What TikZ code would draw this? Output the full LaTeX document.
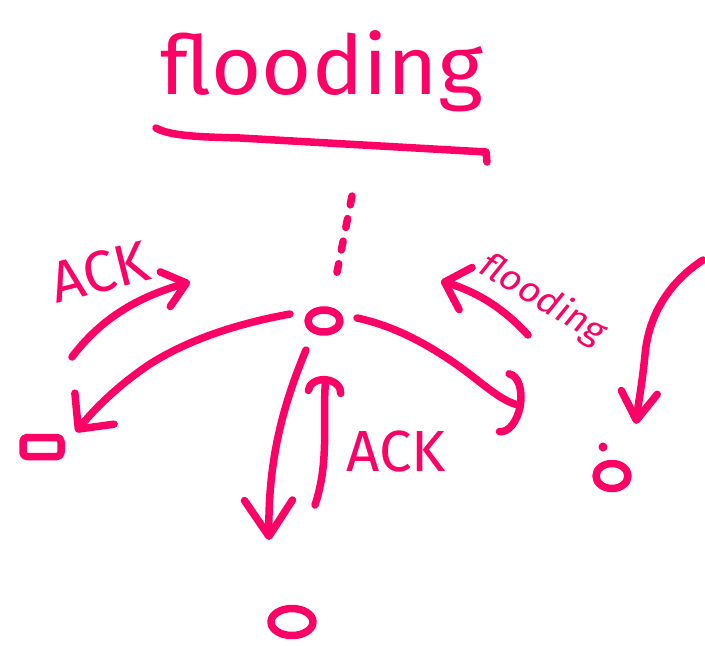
\documentclass[tikz,border=0pt]{standalone}
\usepackage{fontspec}
\setsansfont{Fira Sans}
\usetikzlibrary{arrows.meta,calc,shapes.geometric}
\definecolor{pk}{RGB}{255,0,102}
\begin{document}
\begin{tikzpicture}[x=1pt,y=-1pt,
  pen/.style={draw=pk, line width=7.5pt, line cap=round, line join=round},
  nodeoval/.style={pen, ellipse, inner sep=0pt},
  nodebox/.style={pen, rectangle, rounded corners=4pt, inner sep=0pt},
  lbl/.style={text=pk, font=\sffamily, inner sep=0pt},
  dotnode/.style={fill=pk, circle, inner sep=0pt, minimum size=9pt}]
\useasboundingbox[fill=white] (0,0) rectangle (705,646);

% title and underline
\node[lbl, font=\sffamily\fontsize{82}{82}\selectfont, xscale=1.05, anchor=base] (title) at (322,94) {flooding};
\coordinate (ul0) at (156,128);
\coordinate (ul1) at (486,152);
\coordinate (ul2) at (487,162);
\draw[pen] (ul0) .. controls (170,136) and (200,137) .. (240,138) -- (ul1) -- (ul2);

% nodes
\node[nodeoval, minimum width=32pt, minimum height=22pt] (top) at (324,321) {};
\node[nodebox, minimum width=38pt, minimum height=19pt] (left) at (42,447) {};
\node[nodeoval, minimum width=42pt, minimum height=27pt] (bottom) at (292,622) {};
\node[nodeoval, minimum width=32pt, minimum height=25pt] (right) at (612,476) {};
\node[dotnode] (dot) at (603,447) {};

% dashed line above the top node
\coordinate (d0) at (352,196);
\draw[pen, dash pattern=on 9pt off 14pt] (d0) -- ($(top.north)+(13,-34)$);

% connector ends
\coordinate (a0) at (290,314);
\coordinate (a1) at (76,432);
\coordinate (b0) at (72,357);
\coordinate (b1) at (190,282);
\coordinate (c0) at (306,350);
\coordinate (c1) at (269,540);
\coordinate (e0) at (315,505);
\coordinate (e1) at (326,376);
\coordinate (f0) at (357,318);
\coordinate (f1) at (524,406);
\coordinate (g0) at (528,335);
\coordinate (g1) at (441,281);
\coordinate (h0) at (703,260);
\coordinate (h1) at (636,424);

% top -> left
\draw[pen, -{Straight Barb[length=26pt,width=50pt,round]}]
  (a0) .. controls (230,325) and (185,342) .. (150,364) .. controls (120,384) and (95,408) .. (a1);
% ACK back from left
\draw[pen, -{Straight Barb[length=22pt,width=36pt,round]}]
  (b0) .. controls (100,320) and (135,298) .. (b1);
\node[lbl, font=\sffamily\fontsize{58}{58}\selectfont, rotate=14] (ack1) at (100,272) {ACK};

% top -> bottom
\draw[pen, -{Straight Barb[length=36pt,width=48pt,round]}]
  (c0) .. controls (283,405) and (268,460) .. (c1);
% ACK back from bottom
\draw[pen, -{Arc Barb[length=16pt,width=40pt,round]}]
  (e0) .. controls (330,460) and (322,420) .. (e1);
\node[lbl, font=\sffamily\fontsize{58}{58}\selectfont] (ack2) at (396,452) {ACK};

% top -> lower right
\draw[pen, -{Arc Barb[length=20pt,width=66pt,round]}]
  (f0) .. controls (390,325) and (420,340) .. (450,360) .. controls (480,380) and (500,402) .. (f1);
% flooding back towards top
\draw[pen, -{Straight Barb[length=22pt,width=44pt,round]}]
  (g0) .. controls (505,310) and (480,293) .. (g1);
\node[lbl, font=\sffamily\fontsize{34}{34}\selectfont, xscale=1.15, rotate=-35] (fl2) at (543,300) {flooding};

% incoming flooding to the right node
\draw[pen, -{Straight Barb[length=28pt,width=36pt,round]}]
  (h0) .. controls (665,285) and (648,320) .. (645,355) .. controls (642,385) and (638,405) .. (h1);
\end{tikzpicture}
\end{document}
